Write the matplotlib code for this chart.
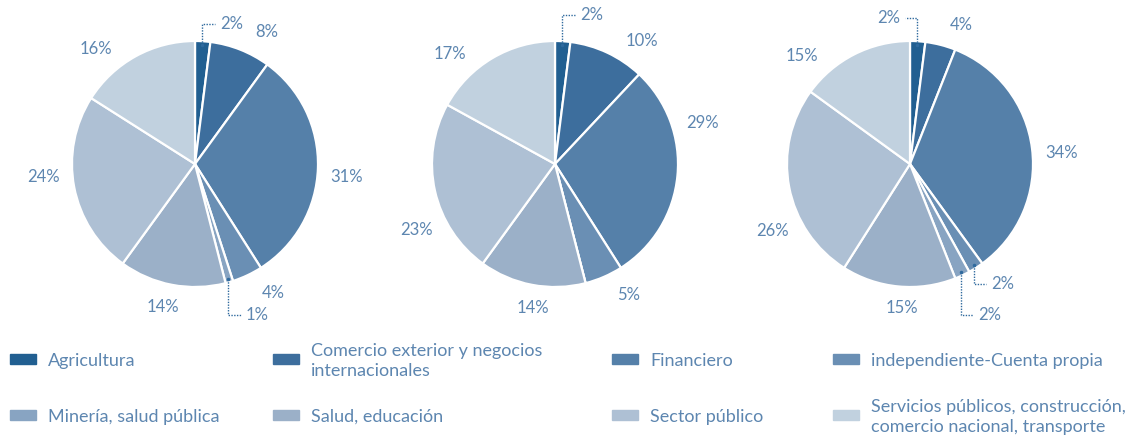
import numpy as np
import matplotlib
matplotlib.use('Agg')
import matplotlib.pyplot as plt

plt.rcParams['font.family'] = ['Lato', 'DejaVu Sans']

categories = ['Agricultura', 'Comercio exterior y negocios\ninternacionales', 'Financiero',
              'independiente-Cuenta propia', 'Minería, salud pública', 'Salud, educación',
              'Sector público', 'Servicios públicos, construcción,\ncomercio nacional, transporte']
pie1 = [2, 8, 31, 4, 1, 14, 24, 16]
pie2 = [2, 10, 29, 5, 0, 14, 23, 17]
pie3 = [2, 4, 34, 2, 2, 15, 26, 15]

colors = ['#215f91', '#3d6e9d', '#5580a9', '#6a8fb4', '#88a4c2', '#9bb0c8', '#aec0d4', '#c1d1df']
txt = '#5d86b0'
lead = '#2f6a9e'

# label angle nudges (deg, clockwise) per slice, to follow the hand placed labels
nudges = [[0, 7, 3, -6, 0, 2, 6, -12],
          [0, 10, -21, -6, 0, -2, -13, -13],
          [0, 6, 3, 0, 0, -2, -15, -18]]
# small slices get elbow leaders: (chart, slice) -> (y level, side)
leaders = {(0, 0): (1.14, 1), (0, 4): (-1.23, 1),
           (1, 0): (1.21, 1),
           (2, 0): (1.19, -1), (2, 3): (-0.975, 1), (2, 4): (-1.23, 1)}

W, H = 1136, 437
fig = plt.figure(figsize=(W / 100, H / 100), dpi=100)
R = 123
lim = 1.45
half = lim * R
centers = [(195, 164), (555, 164), (910, 164)]

for k, vals in enumerate([pie1, pie2, pie3]):
    cx, cy = centers[k]
    ax = fig.add_axes([(cx - half) / W, (H - cy - half) / H, 2 * half / W, 2 * half / H])
    wedges, _ = ax.pie(vals, colors=colors, startangle=90, counterclock=False, radius=1,
                       wedgeprops=dict(edgecolor='white', linewidth=1.6))
    ax.set_xlim(-lim, lim)
    ax.set_ylim(-lim, lim)
    ax.axis('off')
    for i, w in enumerate(wedges):
        if vals[i] == 0:
            continue
        mid = np.deg2rad((w.theta1 + w.theta2) / 2)
        if (k, i) in leaders:
            ylev, side = leaders[(k, i)]
            x0, y0 = 0.97 * np.cos(mid), 0.97 * np.sin(mid)
            x1 = x0 + side * 0.1
            ax.plot([x0, x0, x1], [y0, ylev, ylev], color=lead, lw=1, ls=(0, (1, 1)))
            ax.plot([x0], [y0], 'o', color=lead, ms=1.5)
            ax.text(x1 + side * 0.04, ylev, f'{vals[i]}%', color=txt, fontsize=12,
                    ha='left' if side > 0 else 'right', va='center')
            continue
        phi = np.pi / 2 - mid + np.deg2rad(nudges[k][i])
        d = 1.1 + (16 * abs(np.sin(phi)) + 8 * abs(np.cos(phi))) / R
        ax.text(d * np.sin(phi), d * np.cos(phi), f'{vals[i]}%', color=txt, fontsize=12,
                ha='center', va='center')

# legend, 4 columns x 2 rows
col_x = [10, 273, 612, 833]
row_y = [359, 415]
for i, (name, c) in enumerate(zip(categories, colors)):
    px, py = col_x[i % 4], row_y[i // 4]
    fig.patches.append(plt.Rectangle((px / W, (H - py - 5) / H), 26 / W, 10 / H,
                                     transform=fig.transFigure, color=c))
    fig.text((px + 38) / W, (H - py - 2) / H, name, color=txt, fontsize=13,
             ha='left', va='center', linespacing=1.25)

fig.savefig('out.png', dpi=100)
